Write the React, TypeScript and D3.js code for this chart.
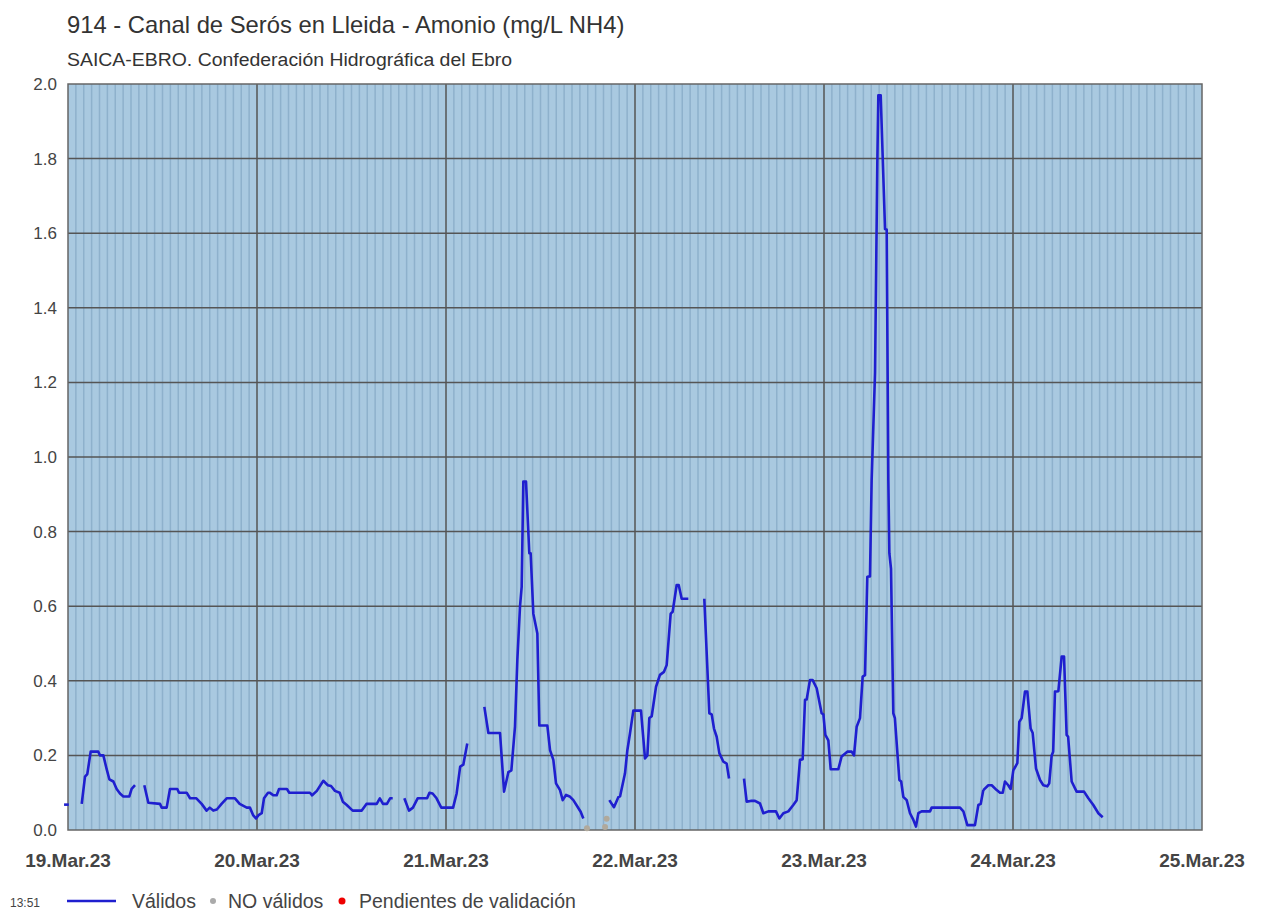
import * as d3 from 'd3';
import { useEffect, useRef } from 'react';

// hours since 19.Mar.23 00:00, value in mg/L NH4
const seg1: [number, number][] = [[-0.5, 0.068], [0.1, 0.068]];
const seg2: [number, number][] = [
    [1.74, 0.07], [2.16, 0.143], [2.45, 0.15], [2.88, 0.21], [3.85, 0.21], [4.06, 0.2], [4.49, 0.2],
    [4.91, 0.163], [5.25, 0.136], [5.76, 0.13], [6.18, 0.11], [6.6, 0.098], [7.03, 0.09], [7.79, 0.09],
    [8.08, 0.11], [8.51, 0.12],
];
const seg3: [number, number][] = [
    [9.69, 0.12], [10.2, 0.073], [11.68, 0.07], [11.9, 0.06], [12.53, 0.06], [12.95, 0.11], [13.88, 0.11],
    [14.1, 0.1], [15.07, 0.1], [15.5, 0.085], [16.3, 0.085], [16.97, 0.07], [17.6, 0.052], [18.0, 0.06],
    [18.45, 0.052], [18.9, 0.055], [19.5, 0.07], [20.15, 0.085], [21.2, 0.085], [21.8, 0.07], [22.7, 0.06],
    [23.1, 0.06], [23.5, 0.04], [23.87, 0.031], [24.2, 0.04], [24.6, 0.045], [24.89, 0.085], [25.4, 0.1],
    [25.6, 0.1], [26.1, 0.093], [26.5, 0.093], [26.8, 0.11], [27.8, 0.11], [28.1, 0.1], [30.73, 0.1],
    [31.0, 0.093], [31.6, 0.105], [32.42, 0.132], [33.0, 0.12], [33.4, 0.118], [33.9, 0.105], [34.5, 0.1],
    [34.9, 0.076], [35.4, 0.067], [36.15, 0.052], [37.3, 0.052], [37.9, 0.07], [39.2, 0.07], [39.6, 0.085],
    [40.0, 0.07], [40.5, 0.07], [40.9, 0.085], [41.23, 0.085],
];
const seg4: [number, number][] = [
    [42.71, 0.085], [43.3, 0.052], [43.8, 0.06], [44.4, 0.085], [45.6, 0.085], [45.9, 0.1], [46.3, 0.098],
    [46.8, 0.085], [47.4, 0.06], [48.9, 0.06], [49.35, 0.098], [49.8, 0.17], [50.2, 0.175], [50.7, 0.232],
];
const seg5: [number, number][] = [
    [52.87, 0.33], [53.38, 0.26], [54.86, 0.26], [55.37, 0.103], [55.92, 0.155], [56.3, 0.16], [56.76, 0.277],
    [57.06, 0.456], [57.4, 0.6], [57.61, 0.652], [57.82, 0.934], [58.16, 0.934], [58.58, 0.742], [58.75, 0.742],
    [59.09, 0.58], [59.6, 0.527], [59.85, 0.28], [60.87, 0.28], [61.21, 0.214], [61.63, 0.188], [61.97, 0.125],
    [62.48, 0.107], [62.82, 0.08], [63.24, 0.094], [63.7, 0.09], [64.17, 0.08], [64.68, 0.063], [65.1, 0.049],
    [65.44, 0.031],
];
const seg6: [number, number][] = [
    [68.74, 0.08], [69.33, 0.061], [69.88, 0.088], [70.1, 0.09], [70.73, 0.152], [71.03, 0.214], [71.37, 0.26],
    [71.79, 0.32], [72.76, 0.32], [73.27, 0.192], [73.57, 0.2], [73.82, 0.3], [74.12, 0.305], [74.67, 0.384],
    [75.17, 0.416], [75.68, 0.424], [76.02, 0.442], [76.53, 0.58], [76.78, 0.585], [77.29, 0.657],
    [77.55, 0.657], [77.93, 0.62], [78.77, 0.62],
];
const seg7: [number, number][] = [
    [80.8, 0.62], [81.44, 0.313], [81.74, 0.31], [82.03, 0.272], [82.37, 0.25], [82.71, 0.206], [83.22, 0.183],
    [83.64, 0.178], [83.94, 0.138],
];
const seg8: [number, number][] = [
    [85.84, 0.138], [86.18, 0.076], [86.69, 0.078], [87.24, 0.078], [87.87, 0.071], [88.3, 0.045], [88.93, 0.05],
    [89.9, 0.05], [90.33, 0.031], [90.84, 0.045], [91.47, 0.05], [92.1, 0.067], [92.53, 0.08], [92.95, 0.188],
    [93.29, 0.19], [93.59, 0.349], [93.8, 0.35], [94.22, 0.402], [94.56, 0.402], [95.07, 0.38], [95.7, 0.313],
    [95.92, 0.31], [96.17, 0.255], [96.55, 0.24], [96.85, 0.163], [97.82, 0.163], [98.24, 0.197], [98.96, 0.21],
    [99.51, 0.21], [99.81, 0.2], [100.15, 0.277], [100.57, 0.3], [100.91, 0.411], [101.21, 0.415], [101.5, 0.679],
    [101.84, 0.68], [102.05, 0.938], [102.48, 1.225], [102.77, 1.787], [102.9, 1.97], [103.2, 1.97],
    [103.75, 1.611], [103.96, 1.61], [104.17, 0.938], [104.3, 0.742], [104.51, 0.7], [104.8, 0.313], [105.0, 0.3],
    [105.57, 0.134], [105.8, 0.13], [106.07, 0.089], [106.5, 0.08], [106.92, 0.045], [107.35, 0.027],
    [107.68, 0.009], [107.98, 0.045], [108.4, 0.05], [109.46, 0.05], [109.67, 0.06], [113.27, 0.06],
    [113.7, 0.05], [114.2, 0.013], [115.17, 0.013], [115.6, 0.067], [115.9, 0.07], [116.23, 0.107],
];
const seg9: [number, number][] = [
    [116.23, 0.107], [116.87, 0.12], [117.3, 0.12], [117.93, 0.107], [118.35, 0.1], [118.7, 0.1], [118.98, 0.13],
    [119.4, 0.12], [119.7, 0.11], [120.04, 0.16], [120.55, 0.179], [120.8, 0.29], [121.1, 0.3], [121.52, 0.371],
    [121.82, 0.371], [122.24, 0.272], [122.5, 0.26], [122.92, 0.165], [123.43, 0.134], [123.85, 0.12],
    [124.36, 0.117], [124.6, 0.125], [124.91, 0.2], [125.1, 0.21], [125.33, 0.371], [125.76, 0.372],
    [126.18, 0.465], [126.48, 0.465], [126.81, 0.255], [127.0, 0.25], [127.45, 0.13], [128.08, 0.103],
    [129.02, 0.103], [129.57, 0.085], [130.2, 0.067], [130.84, 0.045], [131.39, 0.034],
];
const validSegments = [seg1, seg2, seg3, seg4, seg5, seg6, seg7, seg8, seg9];

// points flagged as not valid
const noValidos: [number, number][] = [[65.9, 0.005], [68.2, 0.008], [68.4, 0.03]];

const yTicks = [0, 0.2, 0.4, 0.6, 0.8, 1.0, 1.2, 1.4, 1.6, 1.8, 2.0];

const title = "914 - Canal de Serós en Lleida - Amonio (mg/L NH4)";
const subtitle = "SAICA-EBRO. Confederación Hidrográfica del Ebro";
const updated = "13:51";

const FONT = "'Liberation Sans', Arial, sans-serif";
const start = Date.UTC(2023, 2, 19);
const toDate = (h: number) => new Date(start + h * 3600e3);

export default function App() {
    const ref = useRef<SVGSVGElement>(null);

    useEffect(() => {
        const svg = d3.select(ref.current);
        svg.selectAll("*").remove();

        const left = 68, right = 1202, top = 84, bottom = 830;

        const x = d3.scaleUtc()
            .domain([new Date(start), new Date(Date.UTC(2023, 2, 25))])
            .range([left, right]);
        const y = d3.scaleLinear().domain([0, 2]).range([bottom, top]);

        // titles
        svg.append("text").attr("x", 67).attr("y", 33)
            .style("font-family", FONT).style("font-size", "23.8px").style("fill", "#333")
            .text(title);
        svg.append("text").attr("x", 67).attr("y", 66)
            .style("font-family", FONT).style("font-size", "18px").style("fill", "#333")
            .attr("textLength", 445).attr("lengthAdjust", "spacingAndGlyphs")
            .text(subtitle);

        // plot background
        svg.append("rect")
            .attr("x", left).attr("y", top)
            .attr("width", right - left).attr("height", bottom - top)
            .attr("fill", "#a9c9e0");

        // hourly minor lines
        const hours = d3.utcHour.range(x.domain()[0], x.domain()[1]);
        svg.append("g").selectAll("line")
            .data(hours.filter(d => d.getUTCHours() !== 0))
            .join("line")
            .attr("x1", d => x(d)).attr("x2", d => x(d))
            .attr("y1", top).attr("y2", bottom)
            .attr("stroke", "#8eb1cc").attr("stroke-width", 1.5);

        // major grid
        svg.append("g").selectAll("line")
            .data(yTicks.slice(1, -1))
            .join("line")
            .attr("x1", left).attr("x2", right)
            .attr("y1", d => y(d)).attr("y2", d => y(d))
            .attr("stroke", "#555").attr("stroke-width", 1.5);
        const days = d3.utcDay.range(x.domain()[0], d3.utcDay.offset(x.domain()[1], 1));
        svg.append("g").selectAll("line")
            .data(days.slice(1, -1))
            .join("line")
            .attr("x1", d => x(d)).attr("x2", d => x(d))
            .attr("y1", top).attr("y2", bottom)
            .attr("stroke", "#555").attr("stroke-width", 1.5);

        svg.append("rect")
            .attr("x", left).attr("y", top)
            .attr("width", right - left).attr("height", bottom - top)
            .attr("fill", "none").attr("stroke", "#666").attr("stroke-width", 1.5);

        // y labels
        svg.append("g").selectAll("text")
            .data(yTicks)
            .join("text")
            .attr("x", 57).attr("y", d => y(d) + 6)
            .attr("text-anchor", "end")
            .style("font-family", FONT).style("font-size", "17px").style("fill", "#444")
            .text(d => d.toFixed(1));

        // x labels
        const fmt = d3.utcFormat("%d.%b.%y");
        svg.append("g").selectAll("text")
            .data(days)
            .join("text")
            .attr("x", d => x(d)).attr("y", 867)
            .attr("text-anchor", "middle")
            .style("font-family", FONT).style("font-size", "19px").style("font-weight", "bold").style("fill", "#444")
            .text(d => fmt(d));

        // series
        const line = d3.line<[number, number]>()
            .x(d => x(toDate(d[0])))
            .y(d => y(d[1]));
        svg.append("g").selectAll("path")
            .data(validSegments)
            .join("path")
            .attr("d", d => line(d))
            .attr("fill", "none")
            .attr("stroke", "#1f1fcf")
            .attr("stroke-width", 2.6)
            .attr("stroke-linejoin", "round");

        svg.append("g").selectAll("circle")
            .data(noValidos)
            .join("circle")
            .attr("cx", d => x(toDate(d[0]))).attr("cy", d => y(d[1]))
            .attr("r", 3).attr("fill", "#b0a99c");

        // legend
        const lg = svg.append("g").style("font-family", FONT);
        lg.append("text").attr("x", 10).attr("y", 907).style("font-size", "12px").style("fill", "#444").text(updated);
        lg.append("line").attr("x1", 67).attr("x2", 116).attr("y1", 901).attr("y2", 901)
            .attr("stroke", "#1f1fcf").attr("stroke-width", 2.6);
        lg.append("text").attr("x", 132).attr("y", 908).style("font-size", "19.5px").style("fill", "#444").text("Válidos");
        lg.append("circle").attr("cx", 213).attr("cy", 901).attr("r", 3).attr("fill", "#aaa");
        lg.append("text").attr("x", 228).attr("y", 908).style("font-size", "19.5px").style("fill", "#444").text("NO válidos");
        lg.append("circle").attr("cx", 342).attr("cy", 901).attr("r", 3.5).attr("fill", "#e00");
        lg.append("text").attr("x", 359).attr("y", 908).style("font-size", "19.5px").style("fill", "#444").text("Pendientes de validación");
    }, []);

    return (
        <svg ref={ref} width={1262} height={913}
            style={{ position: "absolute", left: 0, top: 0, background: "#fff" }} />
    );
}
